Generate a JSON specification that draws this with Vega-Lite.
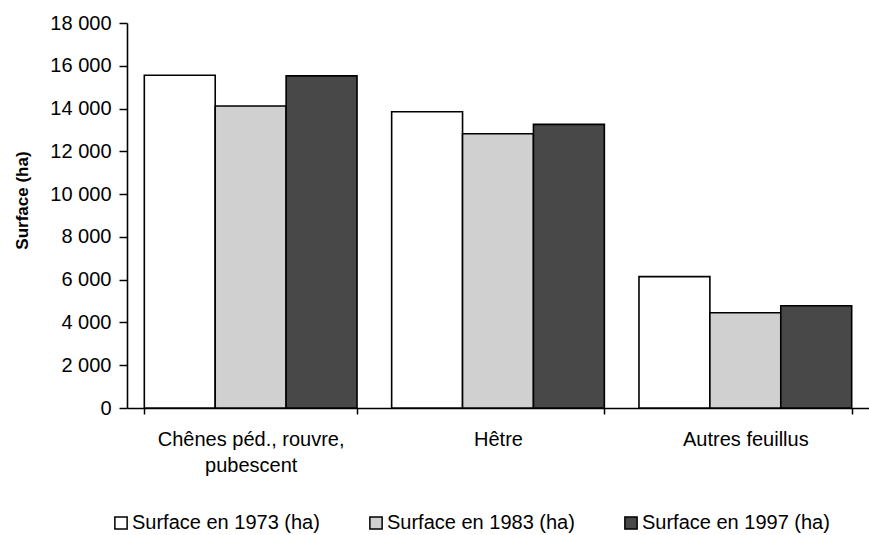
{
  "$schema": "https://vega.github.io/schema/vega-lite/v6.json",
  "width": 742,
  "height": 385,
  "autosize": {"type": "none"},
  "padding": {"left": 127, "top": 23, "right": 0, "bottom": 127},
  "title": {
    "text": "1973 : 35 500 ha  –  1983 : 31 294 ha  –  1997 : 33 249 ha",
    "fontSize": 20,
    "font": "Liberation Sans",
    "fontWeight": "normal",
    "color": "black",
    "offset": 18,
    "baseline": "alphabetic",
    "anchor": "middle",
    "dx": -17
  },
  "data": {
    "values": [
      {"essence": "Chênes péd., rouvre, pubescent", "annee": "Surface en 1973 (ha)", "surface": 15560},
      {"essence": "Chênes péd., rouvre, pubescent", "annee": "Surface en 1983 (ha)", "surface": 14120},
      {"essence": "Chênes péd., rouvre, pubescent", "annee": "Surface en 1997 (ha)", "surface": 15530},
      {"essence": "Hêtre", "annee": "Surface en 1973 (ha)", "surface": 13850},
      {"essence": "Hêtre", "annee": "Surface en 1983 (ha)", "surface": 12820},
      {"essence": "Hêtre", "annee": "Surface en 1997 (ha)", "surface": 13260},
      {"essence": "Autres feuillus", "annee": "Surface en 1973 (ha)", "surface": 6140},
      {"essence": "Autres feuillus", "annee": "Surface en 1983 (ha)", "surface": 4450},
      {"essence": "Autres feuillus", "annee": "Surface en 1997 (ha)", "surface": 4780}
    ]
  },
  "mark": {"type": "bar", "stroke": "black", "strokeWidth": 1.6},
  "encoding": {
    "x": {
      "field": "essence",
      "type": "nominal",
      "sort": ["Chênes péd., rouvre, pubescent", "Hêtre", "Autres feuillus"],
      "scale": {"paddingInner": 0.14, "paddingOuter": 0.07},
      "axis": {
        "title": null,
        "labelAngle": 0,
        "labelFontSize": 20,
        "labelColor": "black",
        "labelPadding": 15,
        "labelLineHeight": 26,
        "labelLimit": 400,
        "labelExpr": "datum.label == 'Chênes péd., rouvre, pubescent' ? ['Chênes péd., rouvre,', 'pubescent'] : datum.label",
        "tickBand": "extent",
        "tickSize": 6,
        "tickColor": "black",
        "tickWidth": 1.5,
        "domainColor": "black",
        "domainWidth": 1.6
      }
    },
    "xOffset": {
      "field": "annee",
      "type": "nominal",
      "sort": ["Surface en 1973 (ha)", "Surface en 1983 (ha)", "Surface en 1997 (ha)"]
    },
    "y": {
      "field": "surface",
      "type": "quantitative",
      "scale": {"domain": [0, 18000]},
      "axis": {
        "values": [0, 2000, 4000, 6000, 8000, 10000, 12000, 14000, 16000, 18000],
        "labelExpr": "replace(format(datum.value, ','), ',', ' ')",
        "labelFontSize": 20,
        "labelColor": "black",
        "labelPadding": 8,
        "tickSize": 8,
        "tickColor": "black",
        "tickWidth": 1.5,
        "domainColor": "black",
        "domainWidth": 1.6,
        "grid": false,
        "title": "Surface (ha)",
        "titleFontSize": 17,
        "titleFontWeight": "bold",
        "titleColor": "black",
        "titleAngle": -90,
        "titleX": -105,
        "titleY": 177,
        "titleAlign": "center",
        "titleBaseline": "middle"
      }
    },
    "fill": {
      "field": "annee",
      "type": "nominal",
      "scale": {
        "domain": ["Surface en 1973 (ha)", "Surface en 1983 (ha)", "Surface en 1997 (ha)"],
        "range": ["#ffffff", "#d0d0d0", "#484848"]
      },
      "legend": {
        "title": null,
        "orient": "none",
        "direction": "horizontal",
        "legendX": -16,
        "legendY": 490,
        "padding": 0,
        "symbolType": "square",
        "symbolSize": 150,
        "symbolStrokeColor": "black",
        "symbolStrokeWidth": 1.5,
        "symbolOpacity": 1,
        "labelFontSize": 20,
        "labelColor": "black",
        "labelOffset": 1,
        "labelLimit": 400,
        "columnPadding": 46
      }
    }
  },
  "config": {
    "view": {"stroke": null},
    "font": "Liberation Sans"
  }
}
